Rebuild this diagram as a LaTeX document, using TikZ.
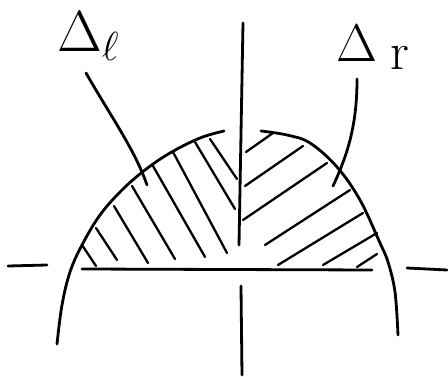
\RequirePackage{fix-cm}
\documentclass[tikz,border=0pt]{standalone}
\begin{document}
\begin{tikzpicture}[x=1pt,y=-1pt,
  ink/.style={line width=2.8pt,line cap=round,line join=round},
  hatch/.style={line width=2.3pt,line cap=round},
  lbl/.style={inner sep=0pt,anchor=base west}]
\useasboundingbox (0,0) rectangle (448,377);
% axes
\coordinate (vt) at (243,23); \coordinate (vb) at (239,245);
\coordinate (wt) at (241,286); \coordinate (wb) at (242,375);
\draw[ink] (vt) -- (vb);
\draw[ink] (wt) -- (wb);
\coordinate (ha) at (8,266); \coordinate (hb) at (47,265);
\coordinate (hc) at (82,269); \coordinate (hd) at (372,270);
\coordinate (he) at (407,268); \coordinate (hf) at (447,270);
\draw[ink] (ha) -- (hb);
\draw[ink] (hc) -- (hd);
\draw[ink] (he) -- (hf);
% arcs
\draw[ink] plot[smooth,tension=0.6] coordinates {(57,344) (62,305) (70,272) (82,245) (100,215) (122,190) (145,170) (170,153) (200,138) (224,131)};
\draw[ink] plot[smooth,tension=0.6] coordinates {(261,131) (287,135) (310,143) (337,167) (360,200) (380,243) (388,262) (395,292) (398,335)};
% left hatching
\draw[hatch] (82,245)--(96,266) (96,228)--(117,260) (114,206)--(148,263)
  (132,186)--(175,259) (153,166)--(205,257) (173,152)--(227,253)
  (195,142)--(235,209) (210,139)--(237,179);
% right hatching
\draw[hatch] (246,152)--(273,133) (245,186)--(303,146) (243,220)--(327,163)
  (265,245)--(350,190) (278,265)--(363,213) (323,265)--(377,233) (357,267)--(377,254);
% labels
\node[lbl] (dl) at (57,52) {\fontsize{58}{62}\selectfont$\Delta_\ell$};
\node[lbl] (dr) at (336,62) {\fontsize{53}{57}\selectfont$\Delta_{\hspace{13pt}\textstyle\mathrm{r}}$};
% leaders
\coordinate (la) at (86,73); \coordinate (lb) at (147,185);
\coordinate (ra) at (357,79); \coordinate (rb) at (333,186);
\draw[ink] (la) .. controls (110,115) and (135,150) .. (lb);
\draw[ink] (ra) .. controls (357,120) and (350,150) .. (rb);
\end{tikzpicture}
\end{document}
